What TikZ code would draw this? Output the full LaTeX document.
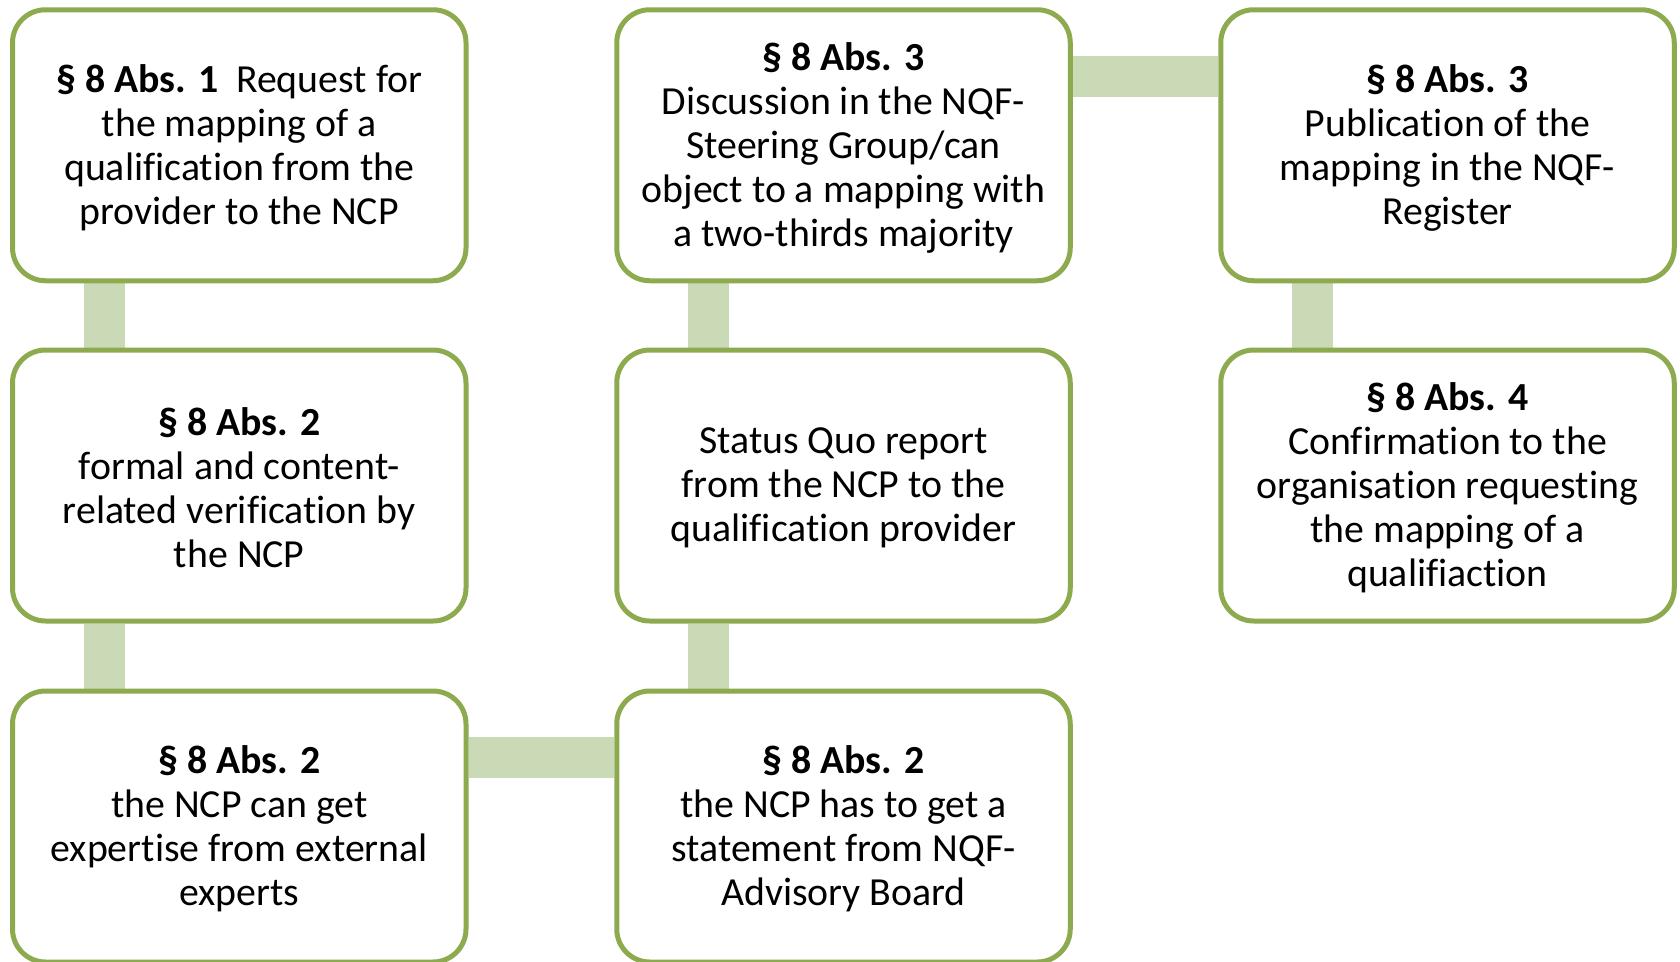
\documentclass[tikz,border=0pt]{standalone}
\usepackage{fontspec}
\setmainfont{Carlito}[Ligatures={NoCommon}]
\definecolor{boxline}{HTML}{8DAA4F}
\definecolor{connfill}{HTML}{CBDAB6}
\pgfdeclarelayer{paper}
\pgfdeclarelayer{links}
\pgfsetlayers{paper,links,main}
\begin{document}
\begin{tikzpicture}[x=1pt,y=-1pt,
  stepbox/.style={draw=boxline, line width=5pt, fill=white, rounded corners=33pt,
    minimum width=453.5pt, minimum height=271pt, inner sep=0pt},
  boxtext/.style={align=center, font=\fontsize{39.8}{44}\selectfont, inner sep=0pt},
  conn/.style={draw=connfill, line width=41pt}]
\useasboundingbox (0,0) rectangle (1680,961);
\begin{pgfonlayer}{paper}
\path[fill=white] (0,0) rectangle (1680,961);
\end{pgfonlayer}
\node[stepbox] (b1) at (239.25,145.25) {};
\node[stepbox] (b2) at (239.25,485.5) {};
\node[stepbox] (b3) at (239.25,826.5) {};
\node[stepbox] (b4) at (843.5,826.5) {};
\node[stepbox] (b5) at (843.5,485.5) {};
\node[stepbox] (b6) at (843.5,145.25) {};
\node[stepbox] (b7) at (1447.5,145.25) {};
\node[stepbox] (b8) at (1447.5,485.5) {};
\node[boxtext] (t1) at ([yshift=-2.5pt]b1.center) {\textbf{§ 8 Abs. 1}\ \ Request for\\the mapping of a\\qualification from the\\provider to the NCP};
\node[boxtext] (t2) at ([yshift=-2.5pt]b2.center) {\textbf{§ 8 Abs. 2}\\formal and content-\\related verification by\\the NCP};
\node[boxtext] (t3) at ([yshift=-2.5pt]b3.center) {\textbf{§ 8 Abs. 2}\\the NCP can get\\expertise from external\\experts};
\node[boxtext] (t4) at ([yshift=-2.5pt]b4.center) {\textbf{§ 8 Abs. 2}\\the NCP has to get a\\statement from NQF-\\Advisory Board};
\node[boxtext] (t5) at ([yshift=-2.5pt]b5.center) {Status Quo report\\from the NCP to the\\qualification provider};
\node[boxtext] (t6) at ([yshift=-2.5pt]b6.center) {\textbf{§ 8 Abs. 3}\\Discussion in the NQF-\\Steering Group/can\\object to a mapping with\\a two-thirds majority};
\node[boxtext] (t7) at ([yshift=-2.5pt]b7.center) {\textbf{§ 8 Abs. 3}\\Publication of the\\mapping in the NQF-\\Register};
\node[boxtext] (t8) at ([yshift=-2.5pt]b8.center) {\textbf{§ 8 Abs. 4}\\Confirmation to the\\organisation requesting\\the mapping of a\\qualifiaction};
\begin{pgfonlayer}{links}
\draw[conn] ([xshift=-134.75pt]b1.south) -- ([xshift=-134.75pt]b2.north);
\draw[conn] ([xshift=-134.75pt]b2.south) -- ([xshift=-134.75pt]b3.north);
\draw[conn] ([yshift=68.75pt]b3.east) -- ([yshift=68.75pt]b4.west);
\draw[conn] ([xshift=-134.75pt]b4.north) -- ([xshift=-134.75pt]b5.south);
\draw[conn] ([xshift=-134.75pt]b5.north) -- ([xshift=-134.75pt]b6.south);
\draw[conn] ([yshift=68.75pt]b6.east) -- ([yshift=68.75pt]b7.west);
\draw[conn] ([xshift=-134.75pt]b7.south) -- ([xshift=-134.75pt]b8.north);
\end{pgfonlayer}
\end{tikzpicture}
\end{document}
